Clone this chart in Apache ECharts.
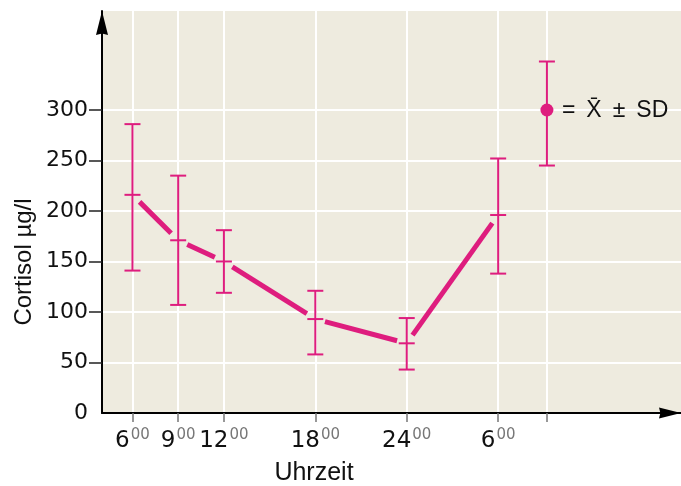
<!DOCTYPE html>
<html>
<head>
<meta charset="utf-8">
<script src="https://cdn.jsdelivr.net/npm/echarts@6/dist/echarts.min.js"></script>
<style>
  html, body { margin: 0; padding: 0; background: #fff; }
  #chart { width: 681px; height: 486px; }
</style>
</head>
<body>
<div id="chart"></div>
<script>
// Uhrzeit in Stunden ab 6:00 (30 = 6:00 am Folgetag)
const times = [6, 9, 12, 18, 24, 30];
const timeLabels = ['6', '9', '12', '18', '24', '6'];
// Cortisol µg/l: Mittelwert, untere und obere Grenze (X ± SD)
const means = [216, 171, 150, 93, 69, 196];
const lower = [141, 107, 119, 58, 43, 138];
const upper = [286, 235, 181, 121, 94, 252];
// Legenden-Symbol
const legendX = 33.2;
const legendMean = 300;
const legendLow = 245;
const legendHigh = 348;
const yTicks = [0, 50, 100, 150, 200, 250, 300];

const MAGENTA = '#de1d7e';
const FONT = '"Liberation Sans", Arial, sans-serif';
const NUMFONT = '"DejaVu Sans", "Liberation Sans", sans-serif';
const ARROW = 'path://M0,24 L6,0 L12,24 L6,22.5 Z';

const chart = echarts.init(document.getElementById('chart'));

// Fehlerbalken mit Querstrichen und "+" am Mittelwert
function renderErrorBar(params, api) {
  const x = api.value(0);
  const mid = api.coord([x, api.value(1)]);
  const bot = api.coord([x, api.value(2)]);
  const top = api.coord([x, api.value(3)]);
  const isLegend = api.value(4) === 1;
  const cap = 8;
  const style = { stroke: MAGENTA, lineWidth: 2 };
  const children = [
    { type: 'line', shape: { x1: top[0], y1: top[1], x2: bot[0], y2: bot[1] }, style },
    { type: 'line', shape: { x1: top[0] - cap, y1: top[1], x2: top[0] + cap, y2: top[1] }, style },
    { type: 'line', shape: { x1: bot[0] - cap, y1: bot[1], x2: bot[0] + cap, y2: bot[1] }, style }
  ];
  if (isLegend) {
    children.push({ type: 'circle', shape: { cx: mid[0], cy: mid[1], r: 6.5 }, style: { fill: MAGENTA } });
    children.push({
      type: 'text', x: mid[0] + 15, y: mid[1] + 1,
      style: { text: '= \u2009X\u0304 \u2009\u00b1 \u2009SD', font: '23px ' + FONT, fill: '#111', verticalAlign: 'middle', align: 'left' }
    });
  } else {
    children.push({ type: 'line', shape: { x1: mid[0] - 8, y1: mid[1], x2: mid[0] + 8, y2: mid[1] }, style });
  }
  return { type: 'group', children };
}

// Verbindungslinie, an den Messpunkten unterbrochen
function renderSegment(params, api) {
  const a = api.coord([api.value(0), api.value(1)]);
  const b = api.coord([api.value(2), api.value(3)]);
  const dx = b[0] - a[0], dy = b[1] - a[1];
  const len = Math.sqrt(dx * dx + dy * dy);
  const gap = 10;
  const ux = dx / len, uy = dy / len;
  return {
    type: 'line',
    shape: { x1: a[0] + ux * gap, y1: a[1] + uy * gap, x2: b[0] - ux * gap, y2: b[1] - uy * gap },
    style: { stroke: MAGENTA, lineWidth: 5, lineCap: 'butt' }
  };
}

const barData = times.map((t, i) => [t, means[i], lower[i], upper[i], 0]);
barData.push([legendX, legendMean, legendLow, legendHigh, 1]);
const segData = times.slice(1).map((t, i) => [times[i], means[i], t, means[i + 1]]);

const option = {
  animation: false,
  grid: { left: 102, right: 0, top: 11, bottom: 73, show: true, backgroundColor: '#eeebdf', borderWidth: 0 },
  xAxis: {
    type: 'value',
    min: 4,
    max: 42,
    axisLine: {
      lineStyle: { color: '#000', width: 2 },
      symbol: ['none', ARROW],
      symbolSize: [19, 22],
      symbolOffset: [0, -11]
    },
    axisTick: { customValues: times.concat([legendX]), length: 9, lineStyle: { color: '#777', width: 1.5 } },
    splitLine: { show: true, lineStyle: { color: '#fff', width: 2 } },
    axisLabel: {
      customValues: times,
      margin: 15,
      formatter: function (v) {
        const i = times.indexOf(v);
        return '{a|' + timeLabels[i] + '}{b|00}';
      },
      rich: {
        a: { fontSize: 23, fontFamily: NUMFONT, color: '#111', lineHeight: 26 },
        b: { fontSize: 15, fontFamily: NUMFONT, color: '#777', verticalAlign: 'top', lineHeight: 26, padding: [0, 0, 10, 1] }
      }
    }
  },
  yAxis: {
    type: 'value',
    min: 0,
    max: 398,
    axisLine: {
      show: true,
      lineStyle: { color: '#000', width: 2 },
      symbol: ['none', ARROW],
      symbolSize: [19, 24],
      symbolOffset: [0, -12]
    },
    axisTick: { show: true, customValues: yTicks.slice(1), length: 13, lineStyle: { color: '#222', width: 1.5 } },
    splitLine: { show: true, lineStyle: { color: '#fff', width: 2 } },
    axisLabel: { customValues: yTicks, margin: 14, fontSize: 22, fontFamily: NUMFONT, color: '#111' }
  },
  graphic: [
    {
      type: 'text', x: 24, y: 262, rotation: Math.PI / 2,
      style: { text: 'Cortisol \u00b5g/l', font: '24px ' + FONT, fill: '#111', align: 'center', verticalAlign: 'middle' }
    },
    {
      type: 'text', x: 314, y: 473,
      style: { text: 'Uhrzeit', font: '25px ' + FONT, fill: '#111', align: 'center', verticalAlign: 'middle' }
    }
  ],
  series: [
    { type: 'custom', renderItem: renderSegment, data: segData, encode: { x: [0, 2], y: [1, 3] }, clip: false },
    { type: 'custom', renderItem: renderErrorBar, data: barData, encode: { x: 0, y: [1, 2, 3] }, clip: false }
  ]
};

chart.setOption(option);
</script>
</body>
</html>
